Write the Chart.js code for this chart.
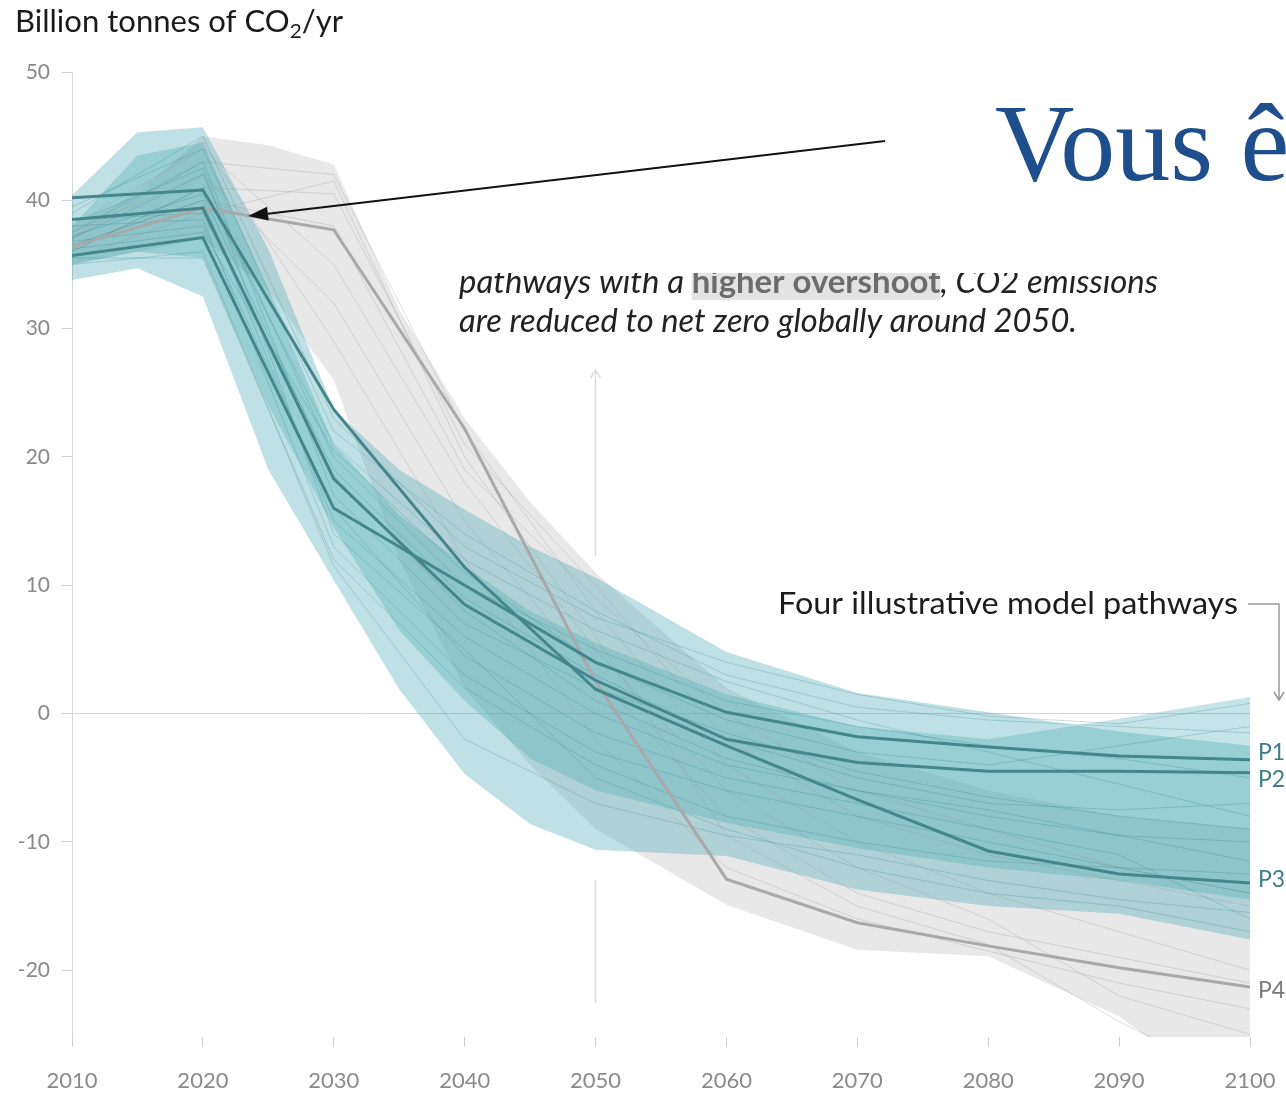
<!DOCTYPE html>
<html>
<head>
<meta charset="utf-8">
<script src="https://cdn.jsdelivr.net/npm/chart.js@4.4.0/dist/chart.umd.min.js"></script>
<style>
    body { margin: 0; background: #ffffff; }
    #mainChart { display: block; }
</style>
</head>
<body>
<canvas id="mainChart" width="1286" height="1095"></canvas>
<script>
// decades for the pathway lines, finer years for the shaded ranges
var years = [2010, 2020, 2030, 2040, 2050, 2060, 2070, 2080, 2090, 2100];
var bandYears = [2010, 2015, 2020, 2025, 2030, 2035, 2040, 2045, 2050, 2060, 2070, 2080, 2090, 2100];
var yTicks = [50, 40, 30, 20, 10, 0, -10, -20];

// no or low overshoot range (two overlapping layers)
var tealOuterHigh = [40.4, 45.3, 45.7, 36.2, 23.7, 19.0, 15.9, 13.0, 10.6, 4.8, 1.6, 0.1, -1.4, -2.5];
var tealOuterLow = [33.8, 34.7, 32.5, 19.0, 10.4, 1.9, -4.7, -8.6, -10.6, -11.1, -13.7, -15.0, -15.6, -17.6];
var tealInnerHigh = [38.0, 43.5, 44.5, 33.0, 21.0, 15.5, 11.5, 8.0, 5.5, 1.5, -1.0, -2.0, -0.4, 1.3];
var tealInnerLow = [35.0, 36.0, 35.5, 24.0, 14.5, 6.5, 1.0, -3.5, -6.0, -8.5, -10.5, -12.0, -13.0, -14.5];

// higher overshoot range
var greyHigh = [38.0, 40.5, 45.0, 44.3, 42.8, 31.5, 23.0, 16.5, 11.0, 2.0, -3.0, -6.0, -8.0, -9.0];
var greyLow = [35.0, 36.0, 37.0, 33.0, 26.0, 12.0, 2.0, -4.0, -9.0, -14.9, -18.4, -18.9, -23.6, -31.0];

// four illustrative model pathways
var pathwayNames = ["P1", "P2", "P3", "P4"];
var p1 = [35.7, 37.1, 16.0, 10.0, 4.0, 0.1, -1.8, -2.6, -3.3, -3.6];
var p2 = [38.5, 39.4, 18.3, 8.5, 2.6, -2.0, -3.8, -4.5, -4.5, -4.6];
var p3 = [40.2, 40.8, 23.7, 11.4, 1.9, -2.5, -6.7, -10.7, -12.5, -13.2];
var p4 = [36.4, 39.4, 37.7, 22.2, 2.5, -12.9, -16.3, -18.1, -19.8, -21.3];

// individual model runs drawn faintly behind
var tealRuns = [
    [39.5, 44.0, 22.0, 14.0, 8.0, 3.0, 0.5, -0.5, -1.0, -1.5],
    [37.0, 42.0, 20.0, 10.0, 5.0, 1.0, -1.0, -2.5, -3.5, -5.0],
    [36.5, 40.0, 15.0, 6.0, 0.0, -4.0, -6.0, -8.0, -9.5, -10.0],
    [38.0, 38.5, 13.0, 3.0, -3.0, -6.0, -8.0, -10.0, -12.0, -14.0],
    [35.0, 36.0, 11.5, -2.0, -7.0, -9.5, -11.0, -13.0, -14.5, -15.5],
    [36.0, 41.0, 21.0, 12.0, 6.5, 2.5, -0.5, -3.0, -5.5, -8.0],
    [37.5, 43.0, 17.0, 7.0, 2.0, -1.5, -4.5, -6.5, -8.0, -9.0],
    [38.5, 39.0, 19.0, 9.0, 3.0, -2.0, -5.0, -7.0, -7.5, -7.0],
    [35.5, 35.5, 12.0, 2.0, -4.0, -8.0, -10.0, -11.5, -12.0, -12.5],
    [39.0, 45.0, 23.0, 13.0, 7.5, 4.0, 1.5, -0.2, -0.8, 0.8],
    [36.8, 38.0, 16.0, 4.5, -1.5, -5.0, -7.0, -9.0, -11.0, -16.0],
    [37.2, 40.5, 18.5, 8.0, 1.0, -3.5, -6.0, -7.5, -9.5, -11.5],
    [38.2, 42.5, 14.0, 5.0, -5.0, -9.0, -12.0, -14.0, -15.0, -17.0],
    [36.2, 37.5, 20.5, 11.0, 4.0, -0.5, -3.0, -4.0, -2.5, -1.0]
];
var greyRuns = [
    [37.0, 43.0, 42.0, 22.0, 8.0, -4.0, -10.0, -14.0, -17.0, -20.0],
    [36.0, 41.0, 40.5, 21.0, 10.0, -2.0, -8.0, -11.0, -13.0, -15.0],
    [38.0, 44.0, 35.0, 18.0, 5.0, -6.0, -12.0, -16.0, -22.0, -25.0],
    [36.5, 40.0, 38.0, 19.0, 9.0, 0.0, -6.0, -9.0, -12.0, -14.0],
    [37.5, 42.0, 32.0, 15.0, 3.0, -8.0, -14.0, -17.0, -19.0, -21.0],
    [35.5, 39.0, 41.5, 20.0, 6.0, -9.5, -15.0, -18.0, -24.0, -29.0],
    [37.0, 44.5, 29.0, 12.0, -2.0, -12.0, -16.0, -18.5, -21.0, -23.0]
];

var sans = "Lato, 'Open Sans', 'DejaVu Sans', sans-serif";
var tealLine = "#44868c";
var greyLine = "#a9a9a9";

function points(xs, ys) {
    return xs.map(function (yr, i) {
        return { x: yr, y: ys[i] };
    });
}

function bandPair(high, low, color, order) {
    return [
        { data: points(bandYears, high), fill: "+1", backgroundColor: color, borderWidth: 0, pointRadius: 0, order: order },
        { data: points(bandYears, low), fill: false, borderWidth: 0, pointRadius: 0, order: order }
    ];
}

function runLine(values, color, width, order) {
    return {
        data: points(years, values),
        fill: false,
        borderColor: color,
        borderWidth: width,
        pointRadius: 0,
        tension: 0,
        order: order
    };
}

// draws text squeezed horizontally so it spans a given width
function fitText(ctx, parts, x, base, width) {
    var total = 0;
    parts.forEach(function (p) {
        ctx.font = p.font;
        p.w = ctx.measureText(p.t).width;
        total += p.w;
    });
    var sx = width / total;
    ctx.save();
    ctx.translate(x, base);
    ctx.scale(sx, 1);
    var cur = 0;
    parts.forEach(function (p) {
        if (p.bg) {
            ctx.fillStyle = p.bg;
            ctx.fillRect(cur, -24, p.w, 31);
        }
        ctx.font = p.font;
        ctx.fillStyle = p.color;
        ctx.textBaseline = "alphabetic";
        ctx.textAlign = "left";
        ctx.fillText(p.t, cur, p.dy || 0);
        cur += p.w;
    });
    ctx.restore();
}

function chevron(ctx, x, y, dir) {
    ctx.beginPath();
    ctx.moveTo(x - 5, y - 8 * dir);
    ctx.lineTo(x, y);
    ctx.lineTo(x + 5, y - 8 * dir);
    ctx.stroke();
}

var notesPlugin = {
    id: "notes",
    afterDatasetsDraw: function (chart) {
        var ctx = chart.ctx;
        var xs = chart.scales.x;
        var ys = chart.scales.y;
        ctx.save();

        // pathway labels at the line ends
        var ends = [p1, p2, p3, p4];
        var nudges = [-7, 7, -3, 4];
        ctx.font = "23px " + sans;
        ctx.textBaseline = "middle";
        ctx.textAlign = "left";
        pathwayNames.forEach(function (name, i) {
            var last = ends[i][ends[i].length - 1];
            ctx.fillStyle = i < 3 ? "#3c7e84" : "#7a7a7a";
            ctx.fillText(name, xs.getPixelForValue(2100) + 8, ys.getPixelForValue(last) + nudges[i]);
        });

        // faint 2050 marker
        var x50 = xs.getPixelForValue(2050);
        ctx.strokeStyle = "#dcdcdc";
        ctx.lineWidth = 1.5;
        ctx.beginPath();
        ctx.moveTo(x50, 372);
        ctx.lineTo(x50, 556);
        ctx.moveTo(x50, 880);
        ctx.lineTo(x50, 1003);
        ctx.stroke();
        chevron(ctx, x50, 370, -1);

        // bracket pointing to the line ends
        ctx.strokeStyle = "#9a9a9a";
        ctx.lineWidth = 1.5;
        ctx.beginPath();
        ctx.moveTo(1248, 604);
        ctx.lineTo(1279, 604);
        ctx.lineTo(1279, 700);
        ctx.stroke();
        chevron(ctx, 1279, 700, 1);

        fitText(ctx, [{ t: "Four illustrative model pathways", font: "30px " + sans, color: "#1c1c1c" }], 778, 614, 460);

        // title
        fitText(ctx, [
            { t: "Billion tonnes of CO", font: "30px " + sans, color: "#1a1a1a" },
            { t: "2", font: "20px " + sans, color: "#1a1a1a", dy: 6 },
            { t: "/yr", font: "30px " + sans, color: "#1a1a1a" }
        ], 15, 32, 328);

        // cut-off caption text
        ctx.save();
        ctx.beginPath();
        ctx.rect(0, 273, 1286, 80);
        ctx.clip();
        fitText(ctx, [
            { t: "pathways with a ", font: "italic 33px " + sans, color: "#222222" },
            { t: "higher overshoot", font: "bold 33px " + sans, color: "#6c6c6c", bg: "#e3e3e3" },
            { t: ", CO2 emissions", font: "italic 33px " + sans, color: "#222222" }
        ], 459, 293, 699);
        ctx.restore();
        fitText(ctx, [{ t: "are reduced to net zero globally around 2050.", font: "italic 33px " + sans, color: "#222222" }], 459, 332, 618);

        // slide overlay: heading and pointer arrow
        ctx.fillStyle = "#1f4e8c";
        ctx.font = "110px 'Liberation Serif', 'Times New Roman', serif";
        ctx.textBaseline = "alphabetic";
        ctx.fillText("Vous ê", 995, 180);

        var x0 = 885, y0 = 141, x1 = 248, y1 = 216;
        var len = Math.hypot(x1 - x0, y1 - y0);
        var ux = (x1 - x0) / len, uy = (y1 - y0) / len;
        var bx = x1 - 20 * ux, by = y1 - 20 * uy;
        ctx.strokeStyle = "#111111";
        ctx.fillStyle = "#111111";
        ctx.lineWidth = 2;
        ctx.beginPath();
        ctx.moveTo(x0, y0);
        ctx.lineTo(bx, by);
        ctx.stroke();
        ctx.beginPath();
        ctx.moveTo(x1, y1);
        ctx.lineTo(bx - 7 * uy, by + 7 * ux);
        ctx.lineTo(bx + 7 * uy, by - 7 * ux);
        ctx.closePath();
        ctx.fill();

        ctx.restore();
    }
};

document.addEventListener("DOMContentLoaded", function () {
    var datasets = [];
    datasets = datasets.concat(bandPair(greyHigh, greyLow, "rgba(190, 190, 190, 0.35)", 10));
    datasets = datasets.concat(bandPair(tealOuterHigh, tealOuterLow, "rgba(60, 165, 175, 0.33)", 9));
    datasets = datasets.concat(bandPair(tealInnerHigh, tealInnerLow, "rgba(60, 165, 175, 0.3)", 8));

    greyRuns.forEach(function (run) {
        datasets.push(runLine(run, "rgba(150, 150, 150, 0.3)", 1, 6));
    });
    tealRuns.forEach(function (run) {
        datasets.push(runLine(run, "rgba(45, 125, 135, 0.25)", 1, 5));
    });

    datasets.push(runLine(p4, greyLine, 3, 2));
    datasets.push(runLine(p3, tealLine, 3, 1));
    datasets.push(runLine(p2, tealLine, 3, 1));
    datasets.push(runLine(p1, tealLine, 3, 1));

    var ctx = document.getElementById("mainChart").getContext("2d");
    new Chart(ctx, {
        type: "line",
        data: { datasets: datasets },
        options: {
            responsive: false,
            animation: false,
            layout: { padding: { top: 72, right: 36, left: 0, bottom: 0 } },
            plugins: {
                legend: { display: false },
                tooltip: { enabled: false }
            },
            scales: {
                x: {
                    type: "linear",
                    min: 2010,
                    max: 2100,
                    afterBuildTicks: function (scale) {
                        scale.ticks = years.map(function (v) { return { value: v }; });
                    },
                    afterFit: function (scale) {
                        scale.height = 58;
                        // labels may hang past the plot edges
                        scale.paddingLeft = 0;
                        scale.paddingRight = 0;
                    },
                    border: { display: false },
                    grid: {
                        drawOnChartArea: false,
                        tickLength: 10,
                        tickColor: "#cfcfcf"
                    },
                    ticks: {
                        color: "#8a8a8a",
                        font: { family: sans, size: 22 },
                        padding: 21,
                        maxRotation: 0,
                        autoSkip: false,
                        callback: function (v) { return String(v); }
                    }
                },
                y: {
                    min: -25.2,
                    max: 50,
                    afterBuildTicks: function (scale) {
                        scale.ticks = yTicks.map(function (v) { return { value: v }; });
                    },
                    afterFit: function (scale) {
                        scale.width = 72;
                    },
                    border: { display: true, color: "#d6d6d6" },
                    grid: {
                        color: function (c) {
                            return c.tick && c.tick.value === 0 ? "#d4d4d4" : "rgba(0,0,0,0)";
                        },
                        tickColor: "#cfcfcf",
                        tickLength: 10
                    },
                    ticks: {
                        color: "#8a8a8a",
                        font: { family: sans, size: 21 },
                        padding: 12
                    }
                }
            }
        },
        plugins: [notesPlugin]
    });
});
</script>
</body>
</html>
